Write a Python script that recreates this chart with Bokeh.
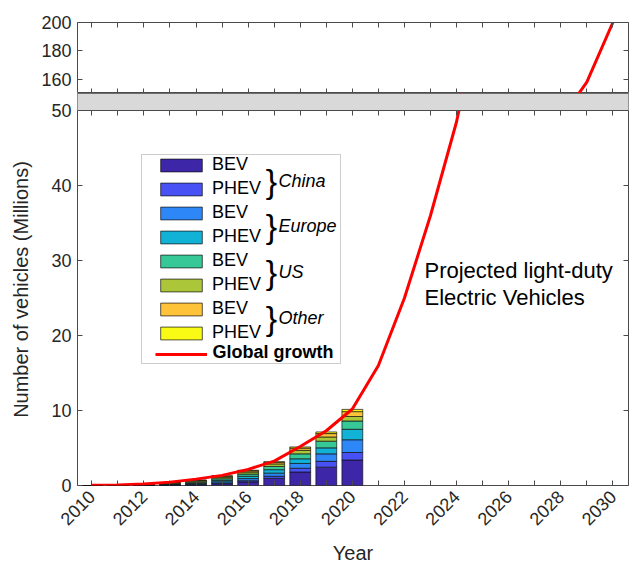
import math
from bokeh.plotting import figure
from bokeh.models import (Range1d, LinearAxis, FixedTicker, Legend, LegendItem,
                          Label, ColumnDataSource, BoxAnnotation, Span)
from bokeh.layouts import column
from bokeh.embed import file_html
from bokeh.resources import INLINE

# ---- data (millions of vehicles on the road) ----
years = [2010, 2011, 2012, 2013, 2014, 2015, 2016, 2017, 2018, 2019, 2020]
china_bev = [0.00, 0.01, 0.02, 0.03, 0.08, 0.23, 0.48, 0.95, 1.80, 2.45, 3.40]
china_phev = [0.00, 0.00, 0.00, 0.01, 0.03, 0.08, 0.16, 0.28, 0.50, 0.77, 1.00]
europe_bev = [0.00, 0.01, 0.03, 0.06, 0.11, 0.19, 0.28, 0.42, 0.64, 1.00, 1.70]
europe_phev = [0.00, 0.00, 0.01, 0.04, 0.08, 0.19, 0.31, 0.46, 0.62, 0.80, 1.40]
us_bev = [0.00, 0.01, 0.03, 0.07, 0.14, 0.21, 0.30, 0.43, 0.66, 0.89, 1.10]
us_phev = [0.00, 0.01, 0.05, 0.10, 0.16, 0.22, 0.27, 0.34, 0.47, 0.56, 0.60]
other_bev = [0.00, 0.02, 0.05, 0.07, 0.09, 0.12, 0.16, 0.20, 0.30, 0.45, 0.65]
other_phev = [0.00, 0.00, 0.01, 0.02, 0.03, 0.05, 0.07, 0.10, 0.15, 0.22, 0.30]

growth_years = list(range(2010, 2031))
global_growth = [0.02, 0.07, 0.20, 0.45, 0.85, 1.35, 2.15, 3.25, 5.2, 7.3, 10.2,
                 16.0, 25.0, 36.0, 48.5, 65.0, 85.0, 108.0, 132.0, 158.0, 200.0]

regions = ["China", "Europe", "US", "Other"]
powertrains = ["BEV", "PHEV"]
series_keys = ["china_bev", "china_phev", "europe_bev", "europe_phev",
               "us_bev", "us_phev", "other_bev", "other_phev"]
parula8 = ["#3E26A8", "#4852F4", "#2D87F7", "#12B1D6",
           "#37C897", "#ABC739", "#FEC338", "#F9FB15"]

x_even = list(range(2010, 2031, 2))
x_odd = list(range(2011, 2030, 2))
main_ticks = [0, 10, 20, 30, 40, 50]
upper_ticks = [160, 180, 200]
main_max = 50
upper_min, upper_max = 150, 200

FONT = "Liberation Sans"
AXC = "#4a4a4a"
TXT = "#262626"

src = ColumnDataSource(dict(year=years, china_bev=china_bev, china_phev=china_phev,
                            europe_bev=europe_bev, europe_phev=europe_phev,
                            us_bev=us_bev, us_phev=us_phev,
                            other_bev=other_bev, other_phev=other_phev))
line_src = ColumnDataSource(dict(year=growth_years, total=global_growth))

x_range = Range1d(2009.45, 2030.6)
FW = 551
LEFT = 77
MAIN_H = 375
BAND = 17


def style_axis(ax, size="18px"):
    ax.axis_line_color = None
    ax.major_tick_in = 5
    ax.major_tick_out = 0
    ax.minor_tick_in = 5
    ax.minor_tick_out = 0
    ax.major_tick_line_color = AXC
    ax.minor_tick_line_color = AXC
    ax.major_label_text_font = FONT
    ax.major_label_text_font_size = size
    ax.major_label_text_color = TXT
    ax.axis_label_text_font = FONT
    ax.axis_label_text_font_style = "normal"
    ax.axis_label_text_color = TXT


def tick_only_axis(ticker, **kw):
    ax = LinearAxis(ticker=ticker, **kw)
    style_axis(ax, "1px")
    ax.major_label_overrides = {t: "" for t in ticker.ticks}
    ax.major_label_standoff = 0
    return ax


def x_ticker():
    return FixedTicker(ticks=x_even, minor_ticks=x_odd)


# ---- upper panel (150-200) ----
top = figure(frame_width=FW, frame_height=71, x_range=x_range,
             y_range=Range1d(upper_min, upper_max), output_backend="svg",
             toolbar_location=None, min_border_left=LEFT, min_border_right=1,
             min_border_top=22, min_border_bottom=0,
             x_axis_location=None)
top.line("year", "total", source=line_src, line_color="#FF0000", line_width=3)
top.xgrid.visible = False
top.ygrid.visible = False
top.outline_line_color = AXC
style_axis(top.yaxis[0])
top.yaxis[0].ticker = FixedTicker(ticks=upper_ticks)
top.yaxis[0].major_label_standoff = 6
top.add_layout(tick_only_axis(x_ticker()), "below")
top.add_layout(tick_only_axis(x_ticker()), "above")
top.add_layout(tick_only_axis(FixedTicker(ticks=upper_ticks)), "right")

# ---- main panel (0-50), with the grey break strip on top of its frame ----
units_per_px = main_max / MAIN_H
p = figure(frame_width=FW, frame_height=MAIN_H + BAND, x_range=x_range,
           y_range=Range1d(0, main_max + BAND * units_per_px),
           output_backend="svg", toolbar_location=None,
           min_border_left=LEFT, min_border_right=1,
           min_border_top=0, min_border_bottom=82)
p.xgrid.visible = False
p.ygrid.visible = False
p.outline_line_color = AXC

bars = p.vbar_stack(series_keys, x="year", width=0.8, source=src,
                    fill_color=parula8, line_color="#111111", line_width=0.7)
growth = p.line("year", "total", source=line_src, line_color="#FF0000",
                line_width=3)

p.add_layout(BoxAnnotation(bottom=main_max, left=x_range.start - 1,
                           right=x_range.end + 1, fill_color="#d9d9d9",
                           fill_alpha=1, line_color=None, level="overlay"))
p.add_layout(Span(location=main_max, dimension="width", line_color=AXC,
                  line_width=1, level="overlay"))

xa = p.xaxis[0]
style_axis(xa)
xa.ticker = x_ticker()
xa.major_label_orientation = math.pi / 4
xa.major_label_standoff = 8
xa.axis_label = "Year"
xa.axis_label_text_font_size = "20px"
xa.axis_label_standoff = 8

ya = p.yaxis[0]
style_axis(ya)
ya.ticker = FixedTicker(ticks=main_ticks)
ya.major_label_standoff = 6
ya.axis_label = "Number of vehicles (Millions)"
ya.axis_label_text_font_size = "20px"
ya.axis_label_standoff = 16

p.add_layout(tick_only_axis(x_ticker(), fixed_location=main_max), "above")
p.add_layout(tick_only_axis(FixedTicker(ticks=main_ticks)), "right")


# helpers turning main-panel pixel offsets into data coordinates for annotations
def dx(px):
    return x_range.start + (px - LEFT) * (x_range.end - x_range.start) / FW


def dy(py):
    return (485 - py) * units_per_px


# legend frame
p.add_layout(BoxAnnotation(left=dx(141), right=dx(340), top=dy(154),
                           bottom=dy(363), fill_color="white", fill_alpha=1,
                           line_color="#555555", line_width=1,
                           level="annotation"))

# legend: one entry per stacked series, plus the growth line
items = []
for i, r in enumerate(bars):
    items.append(LegendItem(label=powertrains[i % 2], renderers=[r]))
items.append(LegendItem(label=" ", renderers=[growth]))
legend = Legend(items=items, location=(78, 123), orientation="vertical",
                glyph_width=52, glyph_height=16, label_height=16,
                label_standoff=5, spacing=3, padding=0, margin=0,
                border_line_color=None, background_fill_alpha=0,
                label_text_font=FONT, label_text_font_size="18px",
                label_text_color="black")
p.add_layout(legend, "center")

p.add_layout(Label(x=dx(212), y=dy(351), text="Global growth",
                   text_font=FONT, text_font_size="18px",
                   text_font_style="bold", text_color="black",
                   text_baseline="middle", text_align="left", level="overlay"))

for k, reg in enumerate(regions):
    yc = 180 + k * 45.7
    p.add_layout(Label(x=dx(271), y=dy(yc), text="}", text_font=FONT,
                       text_font_size="34px", text_color="black",
                       text_baseline="middle", text_align="center",
                       level="overlay"))
    p.add_layout(Label(x=dx(278), y=dy(yc), text=reg, text_font=FONT,
                       text_font_size="18px", text_font_style="italic",
                       text_color="black", text_baseline="middle",
                       text_align="left", level="overlay"))

p.add_layout(Label(x=dx(424), y=dy(270), text="Projected light-duty",
                   text_font=FONT, text_font_size="22px", text_color="black",
                   text_baseline="middle", text_align="left"))
p.add_layout(Label(x=dx(424), y=dy(297), text="Electric Vehicles",
                   text_font=FONT, text_font_size="22px", text_color="black",
                   text_baseline="middle", text_align="left"))

layout = column(top, p, spacing=0)
open("out.html", "w").write(file_html(layout, INLINE))
